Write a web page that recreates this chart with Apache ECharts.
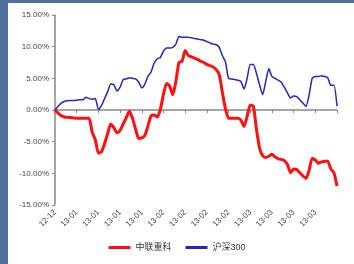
<!DOCTYPE html>
<html><head><meta charset="utf-8">
<script src="https://cdn.jsdelivr.net/npm/echarts@6/dist/echarts.min.js"></script>
<style>
html,body{margin:0;padding:0;background:#fff;}
#wrap{position:relative;width:354px;height:264px;overflow:hidden;background:#fff;}
#chart{position:absolute;left:0;top:0;width:354px;height:264px;}
#lb{position:absolute;left:0;top:0;width:8px;height:264px;background:#50709c;}
#tb{position:absolute;left:0;top:0;width:354px;height:3px;background:#50709c;}
</style></head>
<body><div id="wrap"><div id="chart"></div><div id="lb"></div><div id="tb"></div></div>
<script>
var tickLabels = ['12-12','13-01','13-01','13-01','13-01','13-02','13-02','13-02','13-02','13-03','13-03','13-03','13-03',''];
var seriesNames = ['中联重科','沪深300'];
var zoomlion = [0,-0.5,-0.9,-1.1,-1.15,-1.2,-1.25,-1.3,-1.3,-1.3,-1.3,-1.3,-3.5,-4.7,-6.8,-6.6,-5.3,-3.7,-2.2,-2.8,
-3.6,-3.2,-2.2,-1.2,-0.2,-1.3,-3.0,-4.5,-4.4,-4.0,-2.5,-0.9,-0.8,-1.1,0.1,2.5,4.2,3.8,2.4,4.5,
7.5,7.7,9.4,8.6,8.4,8.2,8.0,7.7,7.5,7.2,7.0,6.8,6.4,5.6,2.8,0.2,-1.3,-1.3,-1.3,-1.3,
-1.6,-2.6,-1.0,0.8,0.6,-3.0,-6.0,-7.2,-7.5,-7.3,-7.0,-7.4,-7.7,-7.8,-8.0,-8.6,-9.9,-9.3,-9.4,-9.9,
-10.4,-10.8,-9.5,-7.6,-7.9,-8.4,-8.2,-8.1,-8.1,-9.3,-9.9,-12.0];
var hs300 = [0,0.6,1.1,1.35,1.45,1.5,1.5,1.55,1.6,1.6,2.0,1.8,1.7,1.8,0.1,0.7,1.8,2.9,4.1,4.0,
3.0,3.6,4.8,4.9,5.1,5.0,4.9,4.4,3.5,4.1,5.3,6.0,7.4,8.1,8.3,9.3,9.8,9.8,9.9,10.4,
11.6,11.5,11.5,11.5,11.4,11.3,11.2,11.1,11.0,10.8,10.6,10.4,10.3,9.9,8.6,7.6,5.0,4.9,4.8,4.7,
4.5,3.3,5.0,7.2,7.2,5.8,4.0,2.4,4.5,6.5,5.3,5.0,4.7,4.4,3.6,2.7,1.9,2.2,2.1,1.6,
1.1,0.6,2.4,5.0,5.3,5.3,5.4,5.3,5.1,3.9,3.9,0.6];
var categories = zoomlion.map(function(_, i){ return String(i); });

var chart = echarts.init(document.getElementById('chart'), null, {renderer:'canvas'});
var font = 'Arial, "Liberation Sans", "Noto Sans CJK SC", sans-serif';
chart.setOption({
  animation:false,
  backgroundColor:'#fff',
  grid:{left:55,top:15,right:17,bottom:59},
  legend:{
    bottom:7,left:'center',itemWidth:22,itemHeight:3,itemGap:14,
    textStyle:{fontSize:9,color:'#333',fontFamily:font},
    icon:'rect',
    data:seriesNames
  },
  xAxis:{
    type:'category',boundaryGap:false,data:categories,
    axisLine:{lineStyle:{color:'#888',width:1.5}},
    axisTick:{show:true,interval:6,length:3,lineStyle:{color:'#888'}},
    axisLabel:{interval:6,rotate:45,fontSize:8,color:'#444',fontFamily:font,margin:6,
      formatter:function(v,i){ var k=Math.round(i/7); return tickLabels[k]||''; }},
    splitLine:{show:false}
  },
  yAxis:{
    type:'value',min:-15,max:15,interval:5,
    axisLine:{show:true,lineStyle:{color:'#888',width:1.5}},
    axisTick:{show:true,length:3,lineStyle:{color:'#888'}},
    axisLabel:{fontSize:8,color:'#444',fontFamily:font,margin:6,
      formatter:function(v){ return v.toFixed(2)+'%'; }},
    splitLine:{show:false}
  },
  series:[
    {name:seriesNames[0],type:'line',data:zoomlion,showSymbol:false,smooth:0.2,
     lineStyle:{color:'#ff1010',width:3},itemStyle:{color:'#ff1010'}},
    {name:seriesNames[1],type:'line',data:hs300,showSymbol:false,smooth:0.2,
     lineStyle:{color:'#2424c8',width:1.5},itemStyle:{color:'#2424c8'}}
  ]
});
</script></body></html>
